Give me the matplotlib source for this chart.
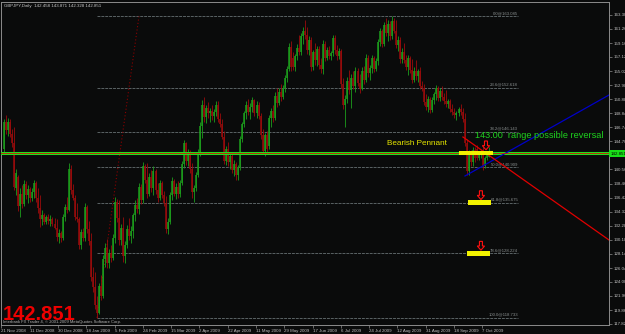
import matplotlib
matplotlib.use('Agg')
import matplotlib.pyplot as plt
import numpy as np
from matplotlib.patches import Rectangle, Polygon

plt.rcParams['font.family'] = ['Liberation Sans', 'DejaVu Sans']

# ---------------- data (GBPJPY daily) ----------------
ohlc = [
    (143.6, 148.0, 143.2, 147.6), (147.6, 148.6, 145.8, 146.3), (146.3, 148.1, 145.5, 147.5),
    (147.5, 148.0, 145.3, 145.8), (145.8, 146.5, 143.9, 144.4), (144.4, 146.8, 137.5, 138.0),
    (137.8, 140.7, 136.8, 140.0), (139.5, 139.8, 134.5, 135.2), (135.2, 137.8, 133.6, 136.9),
    (136.9, 138.3, 134.9, 135.5), (135.5, 139.0, 135.2, 138.4), (138.4, 138.9, 136.2, 136.8),
    (136.8, 138.3, 135.6, 137.7), (137.7, 138.0, 135.8, 136.3), (136.3, 137.8, 135.9, 137.2),
    (137.2, 139.0, 136.4, 138.6), (138.6, 138.9, 135.8, 136.3), (136.3, 137.9, 134.2, 134.9),
    (134.9, 136.8, 132.1, 133.2), (133.2, 134.6, 132.4, 133.9), (133.9, 134.2, 132.6, 132.9),
    (132.9, 133.9, 132.5, 133.6), (133.6, 134.0, 132.6, 133.0), (133.0, 133.8, 132.3, 133.3),
    (133.3, 133.6, 132.2, 132.6), (132.6, 133.4, 131.8, 132.0), (132.0, 133.2, 130.0, 130.6),
    (130.6, 131.8, 129.7, 131.2), (131.2, 131.5, 129.9, 130.4), (130.4, 134.0, 130.2, 133.6),
    (133.6, 135.5, 133.0, 135.0), (135.0, 136.5, 134.2, 134.6), (134.6, 141.5, 134.4, 140.6),
    (140.6, 141.2, 137.0, 137.6), (137.6, 138.4, 136.0, 136.4), (136.4, 136.8, 133.1, 133.6),
    (133.6, 135.6, 132.8, 133.2), (133.2, 133.6, 128.9, 129.4), (129.4, 131.8, 128.8, 131.3),
    (131.3, 132.0, 130.0, 130.5), (130.5, 135.6, 130.0, 135.0), (135.0, 135.4, 131.2, 131.8),
    (131.8, 133.0, 129.4, 130.0), (130.0, 131.2, 124.2, 124.8), (124.8, 126.2, 122.5, 123.2),
    (123.2, 125.5, 120.0, 120.6), (120.6, 122.0, 118.733, 119.5), (119.5, 123.9, 119.3, 123.4),
    (123.4, 125.0, 121.4, 122.0), (122.0, 128.0, 121.6, 127.4), (127.4, 129.8, 126.2, 129.0),
    (129.0, 130.3, 126.0, 126.8), (126.8, 128.8, 126.0, 128.2), (128.2, 129.5, 127.0, 127.6),
    (127.6, 131.0, 127.2, 130.4), (130.4, 136.5, 129.8, 135.8), (135.8, 136.2, 132.8, 133.4),
    (133.4, 136.0, 129.5, 130.2), (130.2, 132.5, 129.4, 132.0), (132.0, 133.5, 127.0, 127.8),
    (127.8, 130.0, 126.8, 129.5), (129.5, 132.4, 129.0, 131.8), (131.8, 133.4, 130.2, 130.8),
    (130.8, 132.2, 129.8, 131.5), (131.5, 134.2, 130.5, 133.8), (133.8, 136.0, 133.0, 135.4),
    (135.4, 136.3, 134.2, 134.8), (134.8, 138.6, 134.0, 138.0), (138.0, 138.4, 135.5, 136.0),
    (136.0, 141.7, 135.6, 141.0), (141.0, 141.4, 138.5, 139.0), (139.0, 141.5, 136.4, 137.0),
    (137.0, 140.0, 136.6, 139.5), (139.5, 140.5, 137.2, 137.8), (137.8, 141.0, 136.8, 140.3),
    (140.3, 140.7, 137.0, 137.6), (137.6, 138.6, 135.8, 136.4), (136.4, 139.0, 136.1, 138.5),
    (138.5, 138.9, 136.3, 136.8), (136.8, 137.4, 135.2, 135.6), (135.6, 136.6, 131.2, 131.8),
    (131.8, 133.4, 131.0, 132.9), (132.9, 137.3, 132.5, 136.8), (136.8, 139.4, 136.0, 138.8),
    (138.8, 139.2, 136.6, 137.0), (137.0, 138.6, 136.2, 138.0), (138.0, 138.8, 136.4, 136.9),
    (136.9, 139.0, 136.5, 138.6), (138.6, 141.8, 138.2, 141.3), (141.3, 144.9, 140.8, 144.4),
    (144.4, 144.6, 141.2, 141.8), (141.8, 143.6, 141.0, 143.0), (143.0, 143.4, 140.0, 140.6),
    (140.6, 141.5, 136.4, 137.2), (137.2, 138.2, 135.8, 137.8), (137.8, 140.2, 137.4, 139.8),
    (139.8, 143.5, 139.5, 143.0), (143.0, 147.6, 142.6, 147.0), (147.0, 150.8, 145.2, 150.0),
    (150.0, 151.3, 147.6, 148.3), (148.3, 150.0, 147.4, 149.6), (149.6, 150.5, 148.2, 148.8),
    (148.8, 149.6, 147.6, 149.2), (149.2, 150.0, 147.8, 148.4), (148.4, 149.4, 147.6, 149.0),
    (149.0, 150.6, 148.5, 150.0), (150.0, 150.7, 147.6, 148.0), (148.0, 148.9, 146.8, 147.2),
    (147.2, 148.0, 145.0, 145.4), (145.4, 146.2, 141.3, 141.8), (141.8, 144.0, 141.2, 143.5),
    (143.5, 144.6, 141.0, 141.6), (141.6, 143.0, 140.6, 142.5), (142.5, 142.8, 140.0, 140.5),
    (140.5, 141.9, 139.6, 141.4), (141.4, 141.7, 139.0, 139.8), (139.8, 141.2, 139.0, 140.9),
    (140.9, 145.5, 140.5, 145.0), (145.0, 147.6, 144.6, 147.2), (147.2, 149.2, 146.8, 148.8),
    (148.8, 150.6, 148.0, 150.0), (150.0, 151.0, 148.6, 149.0), (149.0, 150.4, 148.0, 149.8),
    (149.8, 151.3, 149.0, 150.8), (150.8, 151.0, 148.4, 148.8), (148.8, 150.6, 148.2, 150.1),
    (150.1, 150.5, 148.0, 148.4), (148.4, 148.9, 145.0, 145.6), (145.6, 146.5, 142.8, 143.3),
    (143.3, 146.0, 142.6, 145.6), (145.6, 146.2, 143.0, 143.6), (144.0, 148.6, 143.6, 148.1),
    (148.1, 149.6, 146.8, 149.1), (149.1, 150.0, 147.6, 148.2), (148.2, 152.0, 147.8, 151.4),
    (151.4, 152.6, 149.8, 150.4), (150.4, 152.5, 150.0, 152.0), (152.0, 153.2, 150.6, 151.2),
    (151.2, 153.0, 150.9, 152.6), (152.6, 154.4, 152.0, 154.0), (154.0, 155.8, 153.5, 155.3),
    (155.3, 159.2, 155.0, 158.6), (158.6, 159.4, 155.0, 155.6), (157.0, 157.8, 155.2, 155.6),
    (155.6, 157.6, 155.0, 157.2), (157.2, 159.0, 156.6, 158.5), (158.5, 160.4, 157.4, 157.9),
    (157.9, 160.7, 157.4, 160.2), (160.2, 161.5, 159.0, 161.0), (161.0, 162.6, 159.8, 160.4),
    (160.4, 161.6, 157.6, 158.2), (158.2, 160.2, 157.4, 159.6), (159.6, 160.0, 155.0, 155.6),
    (155.6, 158.2, 155.2, 157.8), (157.8, 159.2, 156.0, 156.6), (156.6, 158.8, 155.8, 158.3),
    (158.3, 158.8, 155.4, 155.9), (155.9, 157.0, 154.8, 155.3), (155.3, 159.6, 154.6, 159.0),
    (159.0, 159.5, 156.5, 157.0), (157.0, 158.6, 156.6, 158.2), (158.2, 158.7, 156.8, 157.2),
    (157.2, 158.0, 156.6, 157.7), (157.7, 160.4, 157.2, 159.9), (159.9, 160.3, 157.6, 158.2),
    (158.2, 158.9, 156.7, 157.2), (157.2, 158.4, 156.8, 158.0), (158.0, 158.3, 152.6, 153.2),
    (153.2, 154.0, 149.5, 150.0), (150.0, 151.5, 146.8, 151.0), (151.0, 154.2, 150.4, 153.6),
    (153.6, 155.2, 151.6, 152.2), (152.2, 154.6, 149.6, 154.0), (154.0, 155.0, 152.4, 152.9),
    (152.9, 155.6, 152.0, 155.1), (155.1, 155.5, 152.8, 153.3), (153.3, 154.6, 151.8, 152.4),
    (152.4, 155.6, 152.2, 155.0), (155.0, 155.8, 153.2, 153.7), (153.7, 157.6, 153.5, 157.0),
    (157.0, 157.4, 154.2, 154.8), (154.8, 155.9, 153.8, 155.5), (155.5, 157.4, 154.8, 156.9),
    (156.9, 157.2, 154.9, 155.4), (155.4, 157.0, 155.0, 156.5), (156.5, 159.8, 156.0, 159.3),
    (159.3, 161.4, 158.8, 160.9), (160.9, 161.2, 158.6, 159.1), (159.1, 162.2, 158.8, 161.8),
    (161.8, 162.8, 160.2, 160.7), (160.7, 162.5, 159.4, 162.0), (162.0, 162.4, 159.6, 160.2),
    (160.2, 163.085, 159.8, 162.4), (162.4, 162.9, 160.6, 161.0), (161.0, 162.6, 158.4, 158.9),
    (158.9, 160.2, 158.0, 159.6), (159.6, 160.0, 156.3, 156.8), (156.8, 158.4, 156.2, 157.9),
    (157.9, 159.2, 156.2, 156.7), (156.7, 157.4, 155.2, 155.7), (155.7, 157.4, 154.5, 157.0),
    (157.0, 157.3, 154.8, 155.2), (155.2, 156.8, 153.3, 153.8), (153.8, 155.6, 153.4, 155.1),
    (155.1, 156.6, 153.8, 154.3), (154.3, 155.4, 153.5, 155.0), (155.0, 155.6, 152.4, 152.9),
    (152.9, 153.6, 152.1, 152.6), (152.6, 153.2, 150.0, 150.5), (150.5, 151.6, 149.3, 149.8),
    (149.8, 151.4, 149.0, 150.9), (150.9, 151.2, 148.8, 149.3), (149.3, 151.2, 149.0, 150.8),
    (150.8, 152.0, 150.2, 151.6), (151.6, 153.0, 150.8, 152.5), (152.5, 152.9, 150.6, 151.1),
    (151.1, 152.6, 150.7, 152.1), (152.1, 152.8, 150.8, 151.2), (151.2, 151.8, 150.2, 150.6),
    (150.6, 152.2, 149.8, 150.2), (150.2, 151.0, 149.6, 150.7), (150.7, 151.0, 149.0, 149.4),
    (149.4, 150.2, 148.6, 149.0), (149.0, 149.6, 148.2, 148.6), (148.6, 149.2, 147.8, 148.9),
    (148.9, 149.8, 148.4, 149.5), (149.5, 150.2, 148.6, 149.0), (149.0, 149.6, 147.6, 148.0),
    (148.0, 148.9, 144.0, 144.5), (144.5, 145.0, 139.8, 140.3), (140.3, 143.4, 139.7, 142.8),
    (142.8, 143.4, 141.0, 141.6), (141.6, 143.9, 141.1, 143.4), (143.4, 143.8, 141.6, 142.2),
    (143.6, 144.1, 141.9, 142.3), (142.3, 143.3, 141.9, 142.9), (142.9, 143.4, 142.3, 143.2),
    (143.2, 144.0, 140.5, 141.0), (141.0, 142.6, 140.8, 142.2), (142.2, 143.2, 141.9, 142.9),
    (142.458, 143.871, 142.328, 142.851),
]
opens = [b[0] for b in ohlc]
highs = [b[1] for b in ohlc]
lows = [b[2] for b in ohlc]
closes = [b[3] for b in ohlc]

date_labels = ["21 Nov 2008", "11 Dec 2008", "30 Dec 2008", "18 Jan 2009", "5 Feb 2009",
               "24 Feb 2009", "15 Mar 2009", "2 Apr 2009", "22 Apr 2009", "11 May 2009",
               "29 May 2009", "17 Jun 2009", "6 Jul 2009", "24 Jul 2009", "12 Aug 2009",
               "31 Aug 2009", "18 Sep 2009", "7 Oct 2009"]
price_ticks = [117.820, 119.860, 121.960, 124.000, 126.040, 128.140, 130.180, 132.280,
               134.320, 136.420, 138.460, 140.560, 144.700, 146.740, 148.840, 150.880,
               152.980, 155.020, 157.120, 159.160, 161.260, 163.300]

fib_low, fib_high = 118.733, 163.085
fib_levels = [0.0, 23.6, 38.2, 50.0, 61.8, 78.6, 100.0]
fib_start_bar, fib_end_bar, fib_diag_end_bar = 46, 254.5, 66.8

blue_line = [(228.2, 139.60), (299.5, 151.52)]
red_line = [(227.2, 145.34), (299.5, 130.18)]
level_line = 143.00
last_price = 142.851
highlight_levels = [143.00, 135.675, 128.225]
arrow_bars = [238.6, 236.1, 236.1]

BG = '#0a0b0b'
GREEN = '#1c9e1c'
RED = '#9a0c0c'

fig = plt.figure(figsize=(6.25, 3.34), dpi=100, facecolor=BG)
ax = fig.add_axes([1 / 625, 9.5 / 334, 608 / 625, 322.5 / 334])
ax.set_facecolor(BG)
ax.set_xlim(-1.485, 299.5)
ax.set_ylim(117.74, 165.21)

x = np.arange(len(closes))
o = np.array(opens); h = np.array(highs); l = np.array(lows); c = np.array(closes)
cols = [GREEN if cc >= oo else RED for oo, cc in zip(o, c)]
ax.vlines(x, l, h, colors=cols, lw=0.6, zorder=3)
ax.vlines(x, np.minimum(o, c), np.maximum(o, c), colors=cols, lw=1.1, zorder=3)

# fibonacci levels
rng = fib_high - fib_low
for lv in fib_levels:
    p = fib_high - rng * lv / 100.0
    ax.plot([fib_start_bar, fib_end_bar], [p, p], color='#5a6264', lw=0.7,
            ls=(0, (3, 1)), zorder=2)
    ax.text(fib_end_bar, p + 0.15, f"{lv:.1f}@{p:.3f}", ha='right', va='bottom',
            fontsize=3.1, color='#8a9090', zorder=4)
ax.plot([fib_start_bar, fib_diag_end_bar], [fib_low, fib_high], color='#8b0000',
        lw=0.8, ls=(0, (1, 2)), zorder=2)

# horizontal level + price line
ax.axhline(level_line, color='#20e020', lw=2.2, zorder=5)
ax.axhline(level_line - 0.07, color='#e00000', lw=0.55, zorder=6)

# trend lines
ax.plot(*zip(*blue_line), color='#0000c8', lw=0.9, zorder=5)
ax.plot(*zip(*red_line), color='#e00000', lw=0.9, zorder=5)

# highlight boxes and arrows
box_x = [225.2, 229.7, 229.2]
box_w = [16.9, 11.4, 11.4]
for lv, bx, bw in zip(highlight_levels, box_x, box_w):
    ax.add_patch(Rectangle((bx, lv - 0.33), bw, 0.66, facecolor='#f2f200',
                           edgecolor='none', zorder=7))
for lv, cx in zip(highlight_levels, arrow_bars):
    tip = lv + 0.45
    top = tip + 1.3
    sw, hw, hh = 0.74, 1.8, 0.62
    verts = [(cx - sw, top), (cx + sw, top), (cx + sw, tip + hh), (cx + hw, tip + hh),
             (cx, tip), (cx - hw, tip + hh), (cx - sw, tip + hh)]
    ax.add_patch(Polygon(verts, closed=True, facecolor='none', edgecolor='#ff1010',
                         lw=0.8, zorder=8))

# annotations
ax.text(189.6, 144.39, "Bearish Pennant", fontsize=5.9, color='#e6e600',
        va='center', ha='left', zorder=9)
ax.text(233.2, 145.49, "143.00  range possible reversal", fontsize=6.6,
        color='#1ed21e', va='center', ha='left', zorder=9)

# axes styling
for s in ax.spines.values():
    s.set_color('#8c8c8c'); s.set_linewidth(0.7)
ax.yaxis.tick_right()
ax.set_yticks(price_ticks)
ax.set_yticklabels([f"{v:.3f}" for v in price_ticks])
ax.tick_params(axis='y', length=2, width=0.5, color='#8c8c8c', labelsize=3.2,
               labelcolor='#c0c0c0', pad=1)
ax.set_xticks(np.arange(len(date_labels)) * 14 - 1.24)
ax.set_xticklabels(date_labels)
ax.tick_params(axis='x', length=2, width=0.5, color='#8c8c8c', labelsize=3.2,
               labelcolor='#c0c0c0', pad=1)
for t in ax.get_xticklabels():
    t.set_ha('left')

ax.annotate(f"{last_price:.3f}", xy=(1, last_price), xycoords=('axes fraction', 'data'),
            xytext=(1.2, 0), textcoords='offset points', ha='left', va='center',
            fontsize=3.2, color='black', zorder=10, annotation_clip=False,
            bbox=dict(boxstyle='square,pad=0.35', fc='#18e018', ec='none'))

fig.text(4 / 625, 1 - 6.5 / 334, "GBPJPY,Daily  142.458 143.871 142.328 142.851",
         fontsize=3.2, color='#c8c8c8', va='center', ha='left')
fig.text(3 / 625, 1 - 320 / 334, "142.851", fontsize=14.5, fontweight='bold',
         color='#ee0000', va='baseline', ha='left')
fig.text(3 / 625, 1 - 322.5 / 334,
         "Interbank FX Trader 4, \u00a9 2001-2009 MetaQuotes Software Corp.",
         fontsize=3.0, color='#b4b4b4', va='center', ha='left')

fig.savefig('out.png', dpi=100, facecolor=BG)
